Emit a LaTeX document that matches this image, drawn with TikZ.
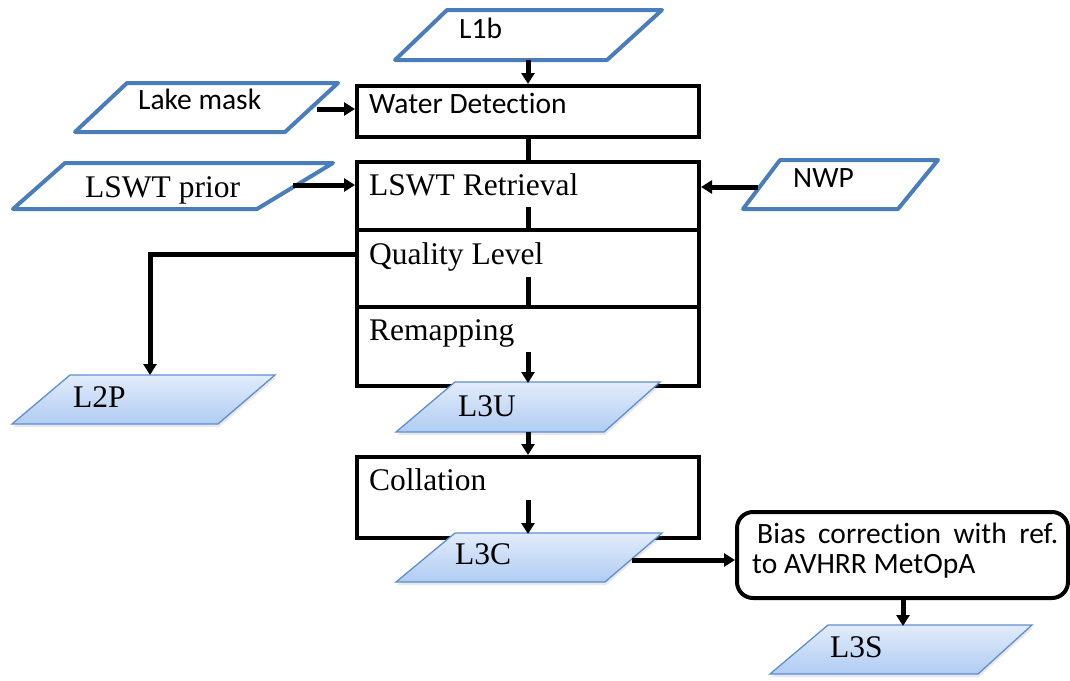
\documentclass[tikz,border=0pt]{standalone}
\usepackage{fontspec}
\setmainfont{Liberation Serif}
\newfontfamily\labelsans[Ligatures=NoCommon]{Carlito}
\usetikzlibrary{arrows.meta,shadows,calc}
\definecolor{inblue}{RGB}{74,126,187}
\definecolor{prodline}{RGB}{94,142,210}
\definecolor{filltop}{RGB}{226,236,251}
\definecolor{fillbot}{RGB}{176,204,242}

\begin{document}
\begin{tikzpicture}[x=1pt,y=-1pt,
  stage/.style={draw=black, line width=4pt, minimum width=342pt, inner sep=0pt},
  inset/.style={draw=inblue, line width=4pt, fill=white, line join=round},
  product/.style={draw=prodline, line width=1.3pt, top color=filltop, bottom color=fillbot,
    drop shadow={opacity=0.18, shadow xshift=1pt, shadow yshift=-3pt}},
  seriflabel/.style={font=\fontsize{31.5}{36}\selectfont, anchor=base west, inner sep=0pt},
  sanslabel/.style={font=\labelsans\fontsize{29.5}{34}\selectfont, anchor=base west, inner sep=0pt},
  flow/.style={line width=5pt, -{Triangle[length=11pt,width=13pt]}},
  link/.style={line width=5pt},
]
\useasboundingbox (0,0) rectangle (1070,680);
\fill[white] (0,0) rectangle (1070,680);

% processing stages
\node[stage, minimum height=51pt] (wd) at (528,111.5) {};
\node[stage, minimum height=68pt] (lr) at (528,196) {};
\node[stage, minimum height=77pt] (ql) at (528,268.5) {};
\node[stage, minimum height=79pt] (rm) at (528,346.5) {};
\node[stage, minimum height=81pt] (co) at (528,497.5) {};
\node[draw=black, line width=4pt, rounded corners=16pt, minimum width=331pt,
      minimum height=86pt, inner sep=0pt] (bias) at (902.5,555) {};

\node[sanslabel] (wdt) at (369,113) {Water Detection};
\node[seriflabel] (lrt) at (369,195) {LSWT Retrieval};
\node[seriflabel] (qlt) at (369,264) {Quality Level};
\node[seriflabel] (rmt) at (369,340) {Remapping};
\node[seriflabel] (cot) at (369,490) {Collation};
\node[sanslabel] (b1) at (757,543) {\makebox[301pt][s]{Bias correction with ref.}};
\node[sanslabel] (b2) at (752,573) {to AVHRR MetOpA};

% input data
\draw[inset] (447,10) -- (662,10) -- (607,60) -- (395,60) -- cycle;
\node[sanslabel] (l1b) at (459,38) {L1b};
\draw[inset] (127,83) -- (338,83) -- (285,132) -- (75,132) -- cycle;
\node[sanslabel] (lake) at (138,109) {Lake mask};
\draw[inset] (65,163) -- (333,163) -- (257,209) -- (13,209) -- cycle;
\node[seriflabel] (prior) at (85,197) {LSWT prior};
\draw[inset] (780,160) -- (938,160) -- (898,209) -- (743,209) -- cycle;
\node[sanslabel] (nwp) at (793,187) {NWP};

% output products
\draw[product] (70,375) -- (275,375) -- (218,424) -- (12,424) -- cycle;
\node[seriflabel] (l2p) at (73,407) {L2P};
\draw[product] (455,382) -- (660,382) -- (604,432) -- (396,432) -- cycle;
\node[seriflabel] (l3u) at (458,416) {L3U};
\draw[product] (455,533) -- (662,533) -- (605,582) -- (396,582) -- cycle;
\node[seriflabel] (l3c) at (455,564) {L3C};
\draw[product] (828,625) -- (1032,625) -- (978,674) -- (770,674) -- cycle;
\node[seriflabel] (l3s) at (830,657) {L3S};

% connector end points
\coordinate (l1bout) at (528,60);
\coordinate (lakeout) at (317,109);
\coordinate (priorout) at (293,185);
\coordinate (nwpout) at (758,187);
\coordinate (lrout) at (528,207);
\coordinate (qlout) at (528,277);
\coordinate (qlside) at (357,254);
\coordinate (l2pin) at (150,375);
\coordinate (rmout) at (528,352);
\coordinate (l3uin) at (528,383);
\coordinate (l3uout) at (528,432);
\coordinate (coout) at (528,500);
\coordinate (l3cin) at (528,534);
\coordinate (l3cout) at (632,560);
\coordinate (l3sin) at (903,626);

% connectors
\draw[flow] (l1bout) -- (wd.north);
\draw[flow] (lakeout) -- (lakeout -| wd.west);
\draw[link] (wd.south) -- (lr.north);
\draw[flow] (priorout) -- (priorout -| lr.west);
\draw[flow] (nwpout) -- (nwpout -| lr.east);
\draw[link] (lrout) -- (ql.north);
\draw[flow] (qlside) -| (l2pin);
\draw[link] (qlout) -- (rm.north);
\draw[flow] (rmout) -- (l3uin);
\draw[flow] (l3uout) -- (co.north);
\draw[flow] (coout) -- (l3cin);
\draw[flow] (l3cout) -- (l3cout -| bias.west);
\draw[flow] (l3sin |- bias.south) -- (l3sin);
\end{tikzpicture}
\end{document}
